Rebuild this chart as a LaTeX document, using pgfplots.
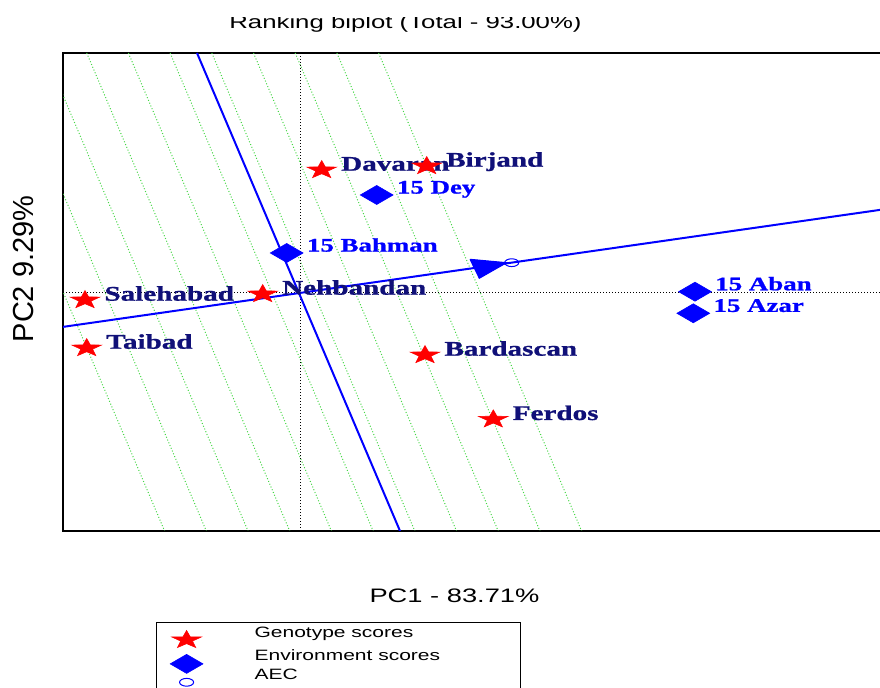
\documentclass[border=0pt]{standalone}
\usepackage{fontspec}
\usepackage{pgfplots}
\pgfplotsset{compat=1.18}
\newfontfamily\arialx[FakeStretch=1.4]{Liberation Sans}
\newfontfamily\arialn{Liberation Sans}
\newfontfamily\timesx[FakeStretch=1.4, BoldFeatures={FakeBold=1}]{Liberation Serif}
\definecolor{navyl}{RGB}{16,16,120}
\definecolor{gline}{RGB}{70,215,70}
\pgfdeclareplotmark{fstar}{%
 \pgfpathmoveto{\pgfpointpolar{90}{\pgfplotmarksize}}%
 \pgfpathlineto{\pgfpointpolar{126}{0.4\pgfplotmarksize}}%
 \pgfpathlineto{\pgfpointpolar{162}{\pgfplotmarksize}}%
 \pgfpathlineto{\pgfpointpolar{198}{0.4\pgfplotmarksize}}%
 \pgfpathlineto{\pgfpointpolar{234}{\pgfplotmarksize}}%
 \pgfpathlineto{\pgfpointpolar{270}{0.4\pgfplotmarksize}}%
 \pgfpathlineto{\pgfpointpolar{306}{\pgfplotmarksize}}%
 \pgfpathlineto{\pgfpointpolar{342}{0.4\pgfplotmarksize}}%
 \pgfpathlineto{\pgfpointpolar{18}{\pgfplotmarksize}}%
 \pgfpathlineto{\pgfpointpolar{54}{0.4\pgfplotmarksize}}%
 \pgfpathclose
 \pgfusepathqfillstroke}
\pgfplotsset{
  legA/.style={legend image code/.code={%
    \path[draw=none] (0pt,-5.75pt) rectangle (49pt,5.65pt);
    \draw[##1, overlay] plot coordinates {(15pt,-3.15pt)};}},
  legB/.style={legend image code/.code={%
    \path[draw=none] (0pt,-4.75pt) rectangle (49pt,5.75pt);
    \draw[##1, overlay] plot coordinates {(15pt,-3.65pt)};}},
  legC/.style={legend image code/.code={%
    \path[draw=none] (0pt,-8pt) rectangle (49pt,4.75pt);
    \draw[##1, overlay] plot coordinates {(15pt,-3.35pt)};}},
  gl/.style={gline, densely dotted, line width=0.5pt, forget plot},
}
\begin{document}
\begin{tikzpicture}
\begin{axis}[
  at={(31.5pt,78.5pt)}, anchor=south west,
  x=0.5pt, y=0.5pt,
  xmin=-237, xmax=610, ymin=-238, ymax=240,
  enlargelimits=false,
  xtick=\empty, ytick=\empty,
  axis line style={line width=1.1pt},
  legend cell align=left,
  legend style={at={(axis cs:-144,-328.7)}, anchor=north west, draw=black,
    line width=0.6pt, inner sep=0pt, column sep=0pt, row sep=0pt,
    nodes={inner sep=0pt, text height=5.5pt, text depth=1.5pt},
    font=\arialx\fontsize{7.5}{9}\selectfont},
]
% parallel ranking lines
\addplot[gl] coordinates {(-338.4,240) (-135.4,-238)};
\addplot[gl] coordinates {(-296.7,240) (-93.7,-238)};
\addplot[gl] coordinates {(-255.0,240) (-52.0,-238)};
\addplot[gl] coordinates {(-213.3,240) (-10.3,-238)};
\addplot[gl] coordinates {(-171.6,240) (31.4,-238)};
\addplot[gl] coordinates {(-129.9,240) (73.1,-238)};
\addplot[gl] coordinates {(-88.2,240) (114.8,-238)};
\addplot[gl] coordinates {(-46.5,240) (156.5,-238)};
\addplot[gl] coordinates {(-4.8,240) (198.2,-238)};
\addplot[gl] coordinates {(36.9,240) (239.9,-238)};
\addplot[gl] coordinates {(78.6,240) (281.6,-238)};
% origin axes
\addplot[black, densely dotted, line width=0.5pt, forget plot] coordinates {(0,-238) (0,240)};
\addplot[black, densely dotted, line width=0.5pt, forget plot] coordinates {(-237,0) (610,0)};
% AEC abscissa and ordinate
\addplot[blue, line width=1pt, forget plot] coordinates {(-237,-33.9) (610,87.4)};
\addplot[blue, line width=1pt, forget plot] coordinates {(-103,240) (100,-238)};
\addplot[blue, fill=blue, line width=0.5pt, forget plot] coordinates {(170,33.7) (179.3,14.7) (206.7,30.3) (170,33.7)};
% genotypes
\addplot[only marks, mark=fstar, mark size=4.7pt, mark options={xscale=1.65, draw=red, fill=red, line width=0.3pt},
  point meta=explicit symbolic, nodes near coords,
  every node near coord/.append style={anchor=base west, xshift=9.6pt, yshift=-0.35pt, inner sep=0pt,
    font=\timesx\bfseries\fontsize{10.4}{12}\selectfont, text=navyl},
  legA] coordinates {
  (21.7,123) [Davaran]
  (126.7,127) [Birjand]
  (-37.3,-1) [Nehbandan]
  (-215,-7) [Salehabad]
  (-213.3,-55) [Taibad]
  (125,-62) [Bardascan]
  (193.3,-126.3) [Ferdos]
};
\addlegendentry{\makebox[133pt][l]{Genotype scores}}
% environments
\addplot[only marks, mark=diamond*, mark size=4.75pt, mark options={xscale=2.3, draw=blue, fill=blue, line width=0.3pt},
  point meta=explicit symbolic, nodes near coords,
  every node near coord/.append style={anchor=base west, xshift=10pt, yshift=0.7pt, inner sep=0pt,
    font=\timesx\bfseries\fontsize{9.6}{11}\selectfont, text=blue},
  legB] coordinates {
  (76.7,98) [15 Dey]
  (-13.3,40) [15 Bahman]
  (395,1.3) [15 Aban]
  (393.3,-20.3) [15 Azar]
};
\addlegendentry{\makebox[133pt][l]{Environment scores}}
% average environment
\addplot[only marks, mark=o, mark size=1.95pt, mark options={xscale=1.8, draw=blue, line width=0.5pt}, legC]
  coordinates {(211.7,30.3)};
\addlegendentry{\makebox[133pt][l]{AEC}}
\end{axis}
\begin{scope}
\clip (0pt,300pt) rectangle (440pt,335pt);
\node[anchor=base, inner sep=0pt, font=\arialx\fontsize{9.2}{11}\selectfont] at (202.75pt,329.75pt) {Ranking biplot (Total - 93.00\%)};
\end{scope}
\node[anchor=base, inner sep=0pt, font=\arialx\fontsize{9.75}{12}\selectfont] at (227.25pt,42.5pt) {PC1 - 83.71\%};
\node[rotate=90, anchor=center, inner sep=0pt, font=\arialn\fontsize{14.5}{17}\selectfont] at (11.7pt,209.5pt) {PC2 9.29\%};
\pgfresetboundingbox
\path[use as bounding box] (0pt,0pt) rectangle (440pt,344pt);
\end{tikzpicture}
\end{document}
